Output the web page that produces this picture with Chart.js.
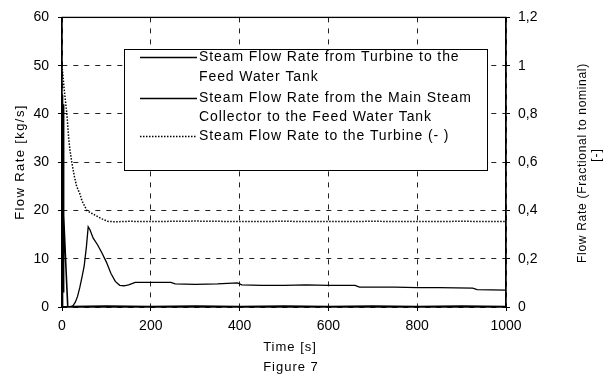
<!DOCTYPE html>
<html><head><meta charset="utf-8">
<script src="https://cdn.jsdelivr.net/npm/chart.js@4/dist/chart.umd.min.js"></script>
<style>html,body{margin:0;padding:0;background:#fff}</style></head>
<body>
<canvas id="c" width="612" height="380"></canvas>
<script>
// ---- data ----
const flowTicks = [0, 10, 20, 30, 40, 50, 60];
const fractionTicks = [0, 0.2, 0.4, 0.6, 0.8, 1, 1.2];
const timeTicks = [0, 200, 400, 600, 800, 1000];

const seriesNames = [
  ["Steam Flow Rate from Turbine to the", "Feed Water Tank"],
  ["Steam Flow Rate from the Main Steam", "Collector to the Feed Water Tank"],
  ["Steam Flow Rate to the Turbine (- )"]
];

// Steam flow from turbine to feed water tank [kg/s]
const turbineTime = [0, 20, 25, 30, 35, 40, 45, 50, 55, 59, 63, 70, 80, 90, 100, 110, 120, 130, 140, 150, 165, 200, 245, 255, 300, 350, 395, 405, 450, 500, 550, 600, 660, 670, 750, 800, 850, 925, 935, 1000];
const turbineFlow = [0, 0, 0.3, 1.0, 2.2, 4.0, 6.2, 8.5, 12.5, 16.6, 16.0, 14.3, 12.9, 11.2, 9.3, 7.0, 5.3, 4.5, 4.4, 4.6, 5.1, 5.1, 5.1, 4.8, 4.7, 4.8, 5.0, 4.6, 4.5, 4.5, 4.6, 4.5, 4.5, 4.1, 4.1, 4.0, 4.0, 3.9, 3.6, 3.5];

// Steam flow from main steam collector to feed water tank [kg/s]
const collectorTime = [0, 0.5, 1, 1.5, 2, 2.5, 3, 3.5, 4.5, 8, 11, 13, 20, 100, 200, 300, 400, 500, 600, 700, 800, 900, 1000];
const collectorFlow = [0, 44, 2, 43, 4, 42, 3, 30, 19, 10, 4, 0, 0.1, 0.2, 0.1, 0.2, 0.1, 0.2, 0.1, 0.2, 0.1, 0.2, 0.1];

// Steam flow to the turbine [fraction of nominal]
const supplyTime = [0, 2, 5, 8, 11, 15, 18, 22, 28, 33, 40, 45, 56, 65, 75, 90, 103, 120, 150, 200, 300, 400, 500, 600, 700, 800, 900, 1000];
const supplyFraction = [1.0, 0.96, 0.9, 0.85, 0.8, 0.7, 0.65, 0.6, 0.54, 0.5, 0.47, 0.44, 0.4, 0.39, 0.38, 0.365, 0.355, 0.353, 0.355, 0.354, 0.356, 0.354, 0.355, 0.354, 0.355, 0.354, 0.355, 0.354];

const toPoints = (xs, ys) => xs.map((x, i) => ({x: x, y: ys[i]}));

const FONT = '"Liberation Sans", Arial, sans-serif';

const decor = {
  id: 'decor',
  afterDatasetsDraw(chart) {
    const ctx = chart.ctx, a = chart.chartArea;
    ctx.save();
    // frame
    ctx.strokeStyle = '#000'; ctx.lineWidth = 1.3; ctx.setLineDash([]);
    ctx.strokeRect(a.left, a.top, a.right - a.left, a.bottom - a.top);
    // legend box
    const bx = 124, by = 49, bw = 363, bh = 121;
    ctx.fillStyle = '#fff'; ctx.fillRect(bx, by, bw, bh);
    ctx.lineWidth = 1; ctx.strokeStyle = '#000';
    ctx.strokeRect(bx + 0.5, by + 0.5, bw, bh);
    ctx.fillStyle = '#000';
    ctx.font = '14px ' + FONT;
    ctx.textBaseline = 'middle'; ctx.textAlign = 'left';
    ctx.letterSpacing = '0.9px';
    const rows = [[57, 77], [98, 117], [136]];
    chart.data.datasets.forEach((ds, i) => {
      const y = rows[i][0];
      ctx.beginPath();
      ctx.strokeStyle = '#000';
      ctx.lineWidth = ds.borderWidth;
      ctx.setLineDash(ds.borderDash || []);
      ctx.moveTo(140, y + 0.5); ctx.lineTo(197, y + 0.5); ctx.stroke();
      ctx.setLineDash([]);
      seriesNames[i].forEach((t, k) => ctx.fillText(t, 199, rows[i][k]));
    });
    // axis titles
    ctx.font = '13px ' + FONT;
    ctx.letterSpacing = '1px';
    ctx.textAlign = 'center';
    ctx.fillText('Time [s]', 290, 347);
    ctx.fillText('Figure 7', 291, 367);
    ctx.save(); ctx.translate(20, 162); ctx.rotate(-Math.PI / 2);
    ctx.letterSpacing = '1.4px';
    ctx.fillText('Flow Rate [kg/s]', 0, 0); ctx.restore();
    ctx.save(); ctx.translate(583, 163); ctx.rotate(-Math.PI / 2);
    ctx.font = '12px ' + FONT; ctx.letterSpacing = '0.7px';
    ctx.fillText('Flow Rate (Fractional to nominal)', 0, 0); ctx.restore();
    ctx.save(); ctx.translate(597, 155); ctx.rotate(-Math.PI / 2);
    ctx.font = '12px ' + FONT;
    ctx.fillText('[-]', 0, 0); ctx.restore();
    ctx.restore();
  }
};

const gridCommon = {color: '#222', lineWidth: 1, tickLength: 4, tickColor: '#000'};
const borderCommon = {display: true, color: '#000', width: 1.3, dash: [5, 6]};
const tickFont = {family: FONT, size: 14};

new Chart(document.getElementById('c'), {
  type: 'line',
  data: {
    datasets: [
      {label: seriesNames[0].join(' '), data: toPoints(turbineTime, turbineFlow), yAxisID: 'y', borderColor: '#000', borderWidth: 1.3, pointRadius: 0, tension: 0},
      {label: seriesNames[1].join(' '), data: toPoints(collectorTime, collectorFlow), yAxisID: 'y', borderColor: '#000', borderWidth: 1.6, pointRadius: 0, tension: 0},
      {label: seriesNames[2].join(' '), data: toPoints(supplyTime, supplyFraction), yAxisID: 'y1', borderColor: '#000', borderWidth: 1.5, borderDash: [1.5, 1.5], pointRadius: 0, tension: 0}
    ]
  },
  options: {
    responsive: false, animation: false, devicePixelRatio: 1,
    layout: {padding: {top: 17, left: 0, right: 0, bottom: 0}},
    plugins: {legend: {display: false}, tooltip: {enabled: false}},
    scales: {
      x: {
        type: 'linear', min: 0, max: 1000,
        afterBuildTicks: s => { s.ticks = timeTicks.map(v => ({value: v})); },
        afterFit: s => { s.height = 73; },
        grid: gridCommon,
        border: borderCommon,
        ticks: {color: '#000', padding: 7, font: tickFont, maxRotation: 0, callback: v => String(v)}
      },
      y: {
        position: 'left', min: 0, max: 60,
        afterBuildTicks: s => { s.ticks = flowTicks.map(v => ({value: v})); },
        afterFit: s => { s.width = 62; },
        grid: gridCommon,
        border: borderCommon,
        ticks: {color: '#000', padding: 9, font: tickFont, callback: v => String(v)}
      },
      y1: {
        position: 'right', min: 0, max: 1.2,
        afterBuildTicks: s => { s.ticks = fractionTicks.map(v => ({value: v})); },
        afterFit: s => { s.width = 106; },
        grid: {drawOnChartArea: false, tickLength: 4, tickColor: '#000'},
        border: {display: true, color: '#000', width: 1.3},
        ticks: {color: '#000', padding: 8, font: tickFont,
          callback: v => String(Math.round(v * 10) / 10).replace('.', ',')}
      }
    }
  },
  plugins: [decor]
});
</script>
</body></html>
